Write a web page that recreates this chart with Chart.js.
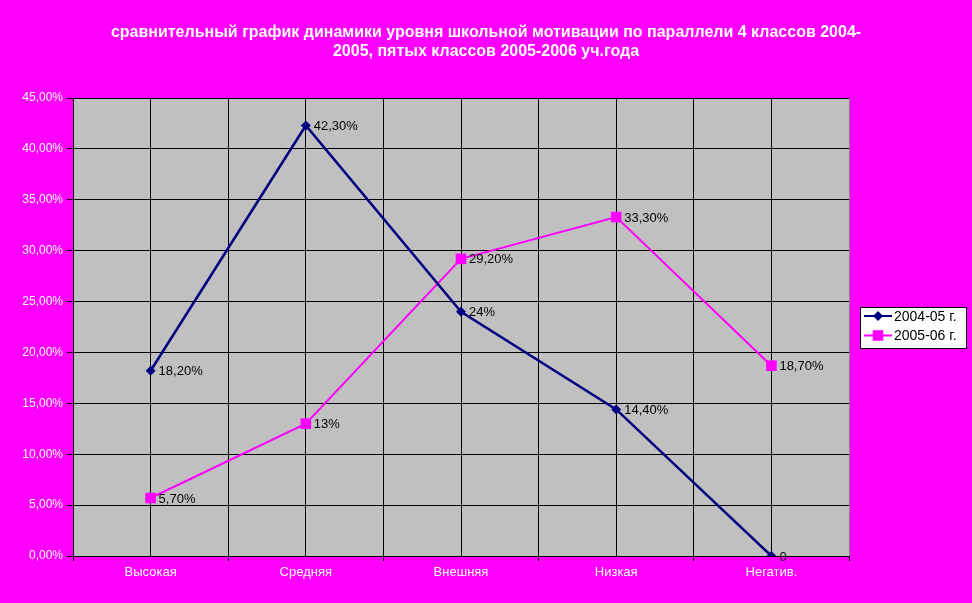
<!DOCTYPE html>
<html>
<head>
<meta charset="utf-8">
<script src="https://cdn.jsdelivr.net/npm/chart.js@4/dist/chart.umd.min.js"></script>
<style>
  html, body { margin: 0; padding: 0; background: #ff00ff; }
  #wrap { width: 972px; height: 603px; }
</style>
</head>
<body>
<div id="wrap"><canvas id="myChart" width="972" height="603"></canvas></div>
<script>
// Данные
const categorias = ['Высокая', 'Средняя', 'Внешняя', 'Низкая', 'Негатив.'];
const serie1 = [18.2, 42.3, 24, 14.4, 0];
const serie2 = [5.7, 13, 29.2, 33.3, 18.7];
const etiquetas1 = ['18,20%', '42,30%', '24%', '14,40%', '0'];
const etiquetas2 = ['5,70%', '13%', '29,20%', '33,30%', '18,70%'];
const nombres = ['2004-05 г.', '2005-06 г.'];
const titulo = ['сравнительный график динамики уровня школьной мотивации по параллели 4 классов 2004-',
                '2005, пятых классов 2005-2006 уч.года'];

const fuente = 'Arial, "Liberation Sans"';

// fondo gris del área + título centrado en todo el lienzo
const fondoArea = {
    id: 'fondoArea',
    beforeDraw(chart) {
        const a = chart.chartArea;
        const ctx = chart.ctx;
        ctx.save();
        ctx.fillStyle = '#c0c0c0';
        ctx.fillRect(a.left, a.top, a.right - a.left, a.bottom - a.top);
        ctx.fillStyle = '#fff';
        ctx.font = 'bold 16px ' + fuente;
        ctx.textAlign = 'center';
        ctx.textBaseline = 'middle';
        titulo.forEach((t, i) => ctx.fillText(t, chart.width / 2, 33 + i * 18.5));
        ctx.restore();
    }
};

// etiquetas de datos
const etiquetasDatos = {
    id: 'etiquetasDatos',
    afterDatasetsDraw(chart) {
        const ctx = chart.ctx;
        const textos = [etiquetas1, etiquetas2];
        ctx.save();
        ctx.font = '13px ' + fuente;
        ctx.fillStyle = '#000';
        ctx.textBaseline = 'middle';
        ctx.textAlign = 'left';
        chart.data.datasets.forEach((ds, i) => {
            chart.getDatasetMeta(i).data.forEach((p, j) => {
                ctx.fillText(textos[i][j], p.x + 8, p.y + 1);
            });
        });
        ctx.restore();
    }
};

// leyenda con caja blanca
const leyenda = {
    id: 'leyenda',
    afterDraw(chart) {
        const ctx = chart.ctx;
        const x = 860, y = 307, w = 106, h = 41;
        ctx.save();
        ctx.fillStyle = '#fff';
        ctx.fillRect(x, y, w, h);
        ctx.strokeStyle = '#000';
        ctx.lineWidth = 1;
        ctx.strokeRect(x + 0.5, y + 0.5, w, h);
        ctx.font = '14px ' + fuente;
        ctx.textBaseline = 'middle';
        chart.data.datasets.forEach((ds, i) => {
            const ly = y + 9 + i * 19.5;
            ctx.strokeStyle = ds.borderColor;
            ctx.lineWidth = 2;
            ctx.beginPath();
            ctx.moveTo(864, ly);
            ctx.lineTo(892, ly);
            ctx.stroke();
            ctx.fillStyle = ds.borderColor;
            Chart.helpers.drawPoint(ctx, {pointStyle: ds.pointStyle, radius: ds.pointRadius, borderWidth: 0}, 878, ly);
            ctx.fillStyle = '#000';
            ctx.fillText(ds.label, 894, ly + 1);
        });
        ctx.restore();
    }
};

const ctx = document.getElementById('myChart').getContext('2d');
new Chart(ctx, {
    type: 'line',
    data: {
        datasets: [{
            label: nombres[0],
            data: serie1.map((v, i) => ({x: i, y: v})),
            borderColor: '#000080',
            backgroundColor: '#000080',
            borderWidth: 2.5,
            pointStyle: 'rectRot',
            pointRadius: 5,
            pointBorderWidth: 0,
            tension: 0
        }, {
            label: nombres[1],
            data: serie2.map((v, i) => ({x: i, y: v})),
            borderColor: '#ff00ff',
            backgroundColor: '#ff00ff',
            borderWidth: 2,
            pointStyle: 'rect',
            pointRadius: 7.5,
            pointBorderWidth: 0,
            tension: 0
        }]
    },
    options: {
        responsive: false,
        animation: false,
        layout: { padding: { left: 0, right: 123, bottom: 7, top: 98 } },
        scales: {
            x: {
                type: 'linear',
                min: -0.5,
                max: 4.5,
                afterFit(scale) { scale.height = 40; },
                afterBuildTicks(scale) {
                    const t = [];
                    for (let v = -0.5; v <= 4.5001; v += 0.5) t.push({value: v});
                    scale.ticks = t;
                },
                ticks: {
                    autoSkip: false,
                    maxRotation: 0,
                    color: '#fff',
                    font: { family: fuente, size: 13 },
                    padding: 4,
                    callback: (v) => Number.isInteger(v) ? categorias[v] : ''
                },
                grid: {
                    color: (c) => (c.tick && c.tick.value === 4.5) ? '#808080' : '#000',
                    tickColor: (c) => (c.tick && !Number.isInteger(c.tick.value)) ? '#000' : 'rgba(0,0,0,0)',
                    tickLength: 5,
                    lineWidth: 1
                },
                border: { color: '#000', width: 1 }
            },
            y: {
                min: 0,
                max: 45,
                afterFit(scale) { scale.width = 73; },
                ticks: {
                    stepSize: 5,
                    color: '#fff',
                    font: { family: fuente, size: 12 },
                    padding: 4,
                    callback: (v) => v.toFixed(2).replace('.', ',') + '%'
                },
                grid: {
                    color: '#000',
                    tickLength: 6,
                    lineWidth: 1
                },
                border: { color: '#000', width: 1 }
            }
        },
        plugins: {
            legend: { display: false },
            tooltip: { enabled: false },
            title: { display: false }
        }
    },
    plugins: [fondoArea, etiquetasDatos, leyenda]
});
</script>
</body>
</html>
